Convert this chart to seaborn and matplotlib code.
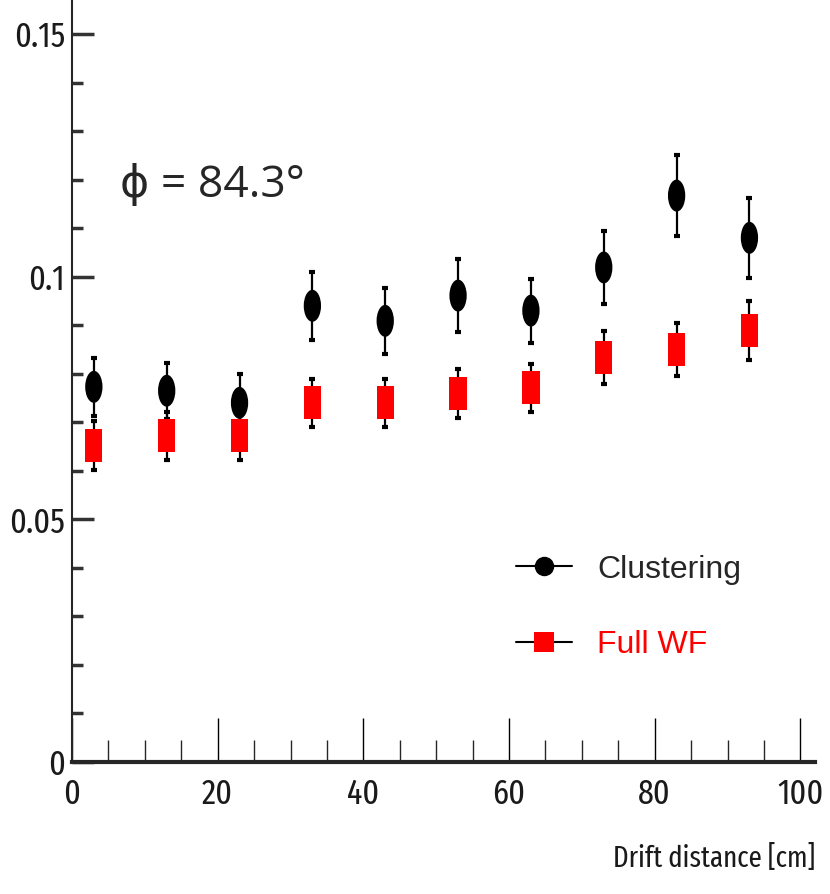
import matplotlib
matplotlib.use("Agg")
import matplotlib.pyplot as plt
from matplotlib import font_manager as fm
from matplotlib.markers import MarkerStyle
from matplotlib.transforms import Affine2D
from matplotlib.lines import Line2D
from matplotlib.ticker import MultipleLocator
import numpy as np
import pandas as pd
import seaborn as sns

# Drift distance bins [cm]
drift = [3, 13, 23, 33, 43, 53, 63, 73, 83, 93]

# Resolution values and uncertainties
clustering = [0.0773, 0.0765, 0.0740, 0.0940, 0.0909, 0.0961, 0.0930, 0.1019, 0.1167, 0.1080]
clustering_err = [0.0060, 0.0058, 0.0060, 0.0070, 0.0068, 0.0076, 0.0066, 0.0076, 0.0083, 0.0082]
full_wf = [0.0652, 0.0672, 0.0672, 0.0740, 0.0740, 0.0759, 0.0771, 0.0833, 0.0850, 0.0889]
full_wf_err = [0.0050, 0.0050, 0.0050, 0.0050, 0.0050, 0.0050, 0.0050, 0.0055, 0.0055, 0.0060]

series_names = ["Clustering", "Full WF"]
series_colors = {"Clustering": "black", "Full WF": "#ff0000"}

df = pd.DataFrame({
    "drift": drift * 2,
    "value": clustering + full_wf,
    "err": clustering_err + full_wf_err,
    "method": [series_names[0]] * len(drift) + [series_names[1]] * len(drift),
})


def narrow_font():
    """Pick a condensed sans-serif regular face for the axis labels, if one exists."""
    prefs = ["extracondensed", "narrow", "condensed", "semicondensed"]
    found = {}
    for f in fm.fontManager.ttflist:
        name = f.fname.lower().replace("-", "").replace("_", "").replace(" ", "")
        if f.style != "normal" or f.weight not in (400, "normal", "regular"):
            continue
        if "mono" in name or "serif" in name.replace("sans", ""):
            continue
        for p in prefs:
            if p in name:
                found.setdefault(p, f.fname)
                break
    for p in prefs:
        if p in found:
            return fm.FontProperties(fname=found[p])
    return fm.FontProperties(family=["Liberation Sans", "DejaVu Sans"])


sns.set_style("ticks")
plt.rcParams["font.family"] = ["Liberation Sans", "DejaVu Sans"]
axis_font = narrow_font()

fig = plt.figure(figsize=(8.3, 8.94), dpi=100)
ax = fig.add_axes([72 / 830, 132 / 894, 743 / 830, 762 / 894])

# Error bars
for name in series_names:
    sub = df[df["method"] == name]
    ax.errorbar(sub["drift"], sub["value"], yerr=sub["err"], fmt="none",
                ecolor="black", elinewidth=1.6, capsize=2.5, capthick=3, zorder=2)

# Elongated markers
ellipse = MarkerStyle("o", transform=Affine2D().scale(1, 1.85))
rect = MarkerStyle("s", transform=Affine2D().scale(1, 1.9))
sns.scatterplot(data=df, x="drift", y="value", hue="method", style="method",
                palette=series_colors, markers={"Clustering": ellipse, "Full WF": rect},
                s=155, linewidth=0, edgecolor="none", legend=False, ax=ax, zorder=3)

ax.set_xlim(0, 102)
ax.set_ylim(0, 0.157)

sns.despine(ax=ax)
ax.spines["left"].set_linewidth(1.5)
ax.spines["bottom"].set_linewidth(3)

ax.xaxis.set_minor_locator(MultipleLocator(5))
ax.yaxis.set_minor_locator(MultipleLocator(0.01))
ax.set_xticks([0, 20, 40, 60, 80, 100])
ax.set_xticklabels(["0", "20", "40", "60", "80", "100"])
ax.set_yticks([0, 0.05, 0.1, 0.15])
ax.set_yticklabels(["0", "0.05", "0.1", "0.15"])

ax.tick_params(axis="x", which="major", direction="in", length=32, width=1.0,
               pad=11, colors="black")
ax.tick_params(axis="x", which="minor", direction="in", length=16, width=1.0)
ax.tick_params(axis="y", which="major", direction="in", length=16, width=2.5,
               pad=5, color="#333333")
ax.tick_params(axis="y", which="minor", direction="in", length=8, width=2.5, color="#333333")
ax.xaxis.set_tick_params(which="both", top=False)
ax.yaxis.set_tick_params(which="both", right=False)
for lab in ax.get_xticklabels() + ax.get_yticklabels():
    lab.set_fontproperties(axis_font)
    lab.set_fontsize(25)
    lab.set_color("#1a1a1a")

ax.set_xlabel("Drift distance [cm]", fontproperties=axis_font, fontsize=21,
              loc="right", labelpad=24, color="#1a1a1a")
ax.set_ylabel("")

ax.text(0.065, 0.742, "\u03d5 = 84.3\u00b0", transform=ax.transAxes,
        fontsize=32, family=["Open Sans", "DejaVu Sans"], ha="left", va="baseline")

handles = [
    Line2D([], [], color="black", lw=1.5, marker=MarkerStyle("o"), markersize=14,
           markerfacecolor="black", markeredgewidth=0),
    Line2D([], [], color="black", lw=1.5, marker=MarkerStyle("s"), markersize=14,
           markerfacecolor="#ff0000", markeredgewidth=0),
]
leg = ax.legend(handles, series_names, loc="upper left", bbox_to_anchor=(0.58, 0.289),
                borderaxespad=0, frameon=False, handlelength=1.75, handletextpad=0.8,
                labelspacing=1.42, prop={"family": ["Liberation Sans", "DejaVu Sans"], "size": 23})
leg.get_texts()[1].set_color("#ff0000")

fig.savefig("out.png", dpi=100)
